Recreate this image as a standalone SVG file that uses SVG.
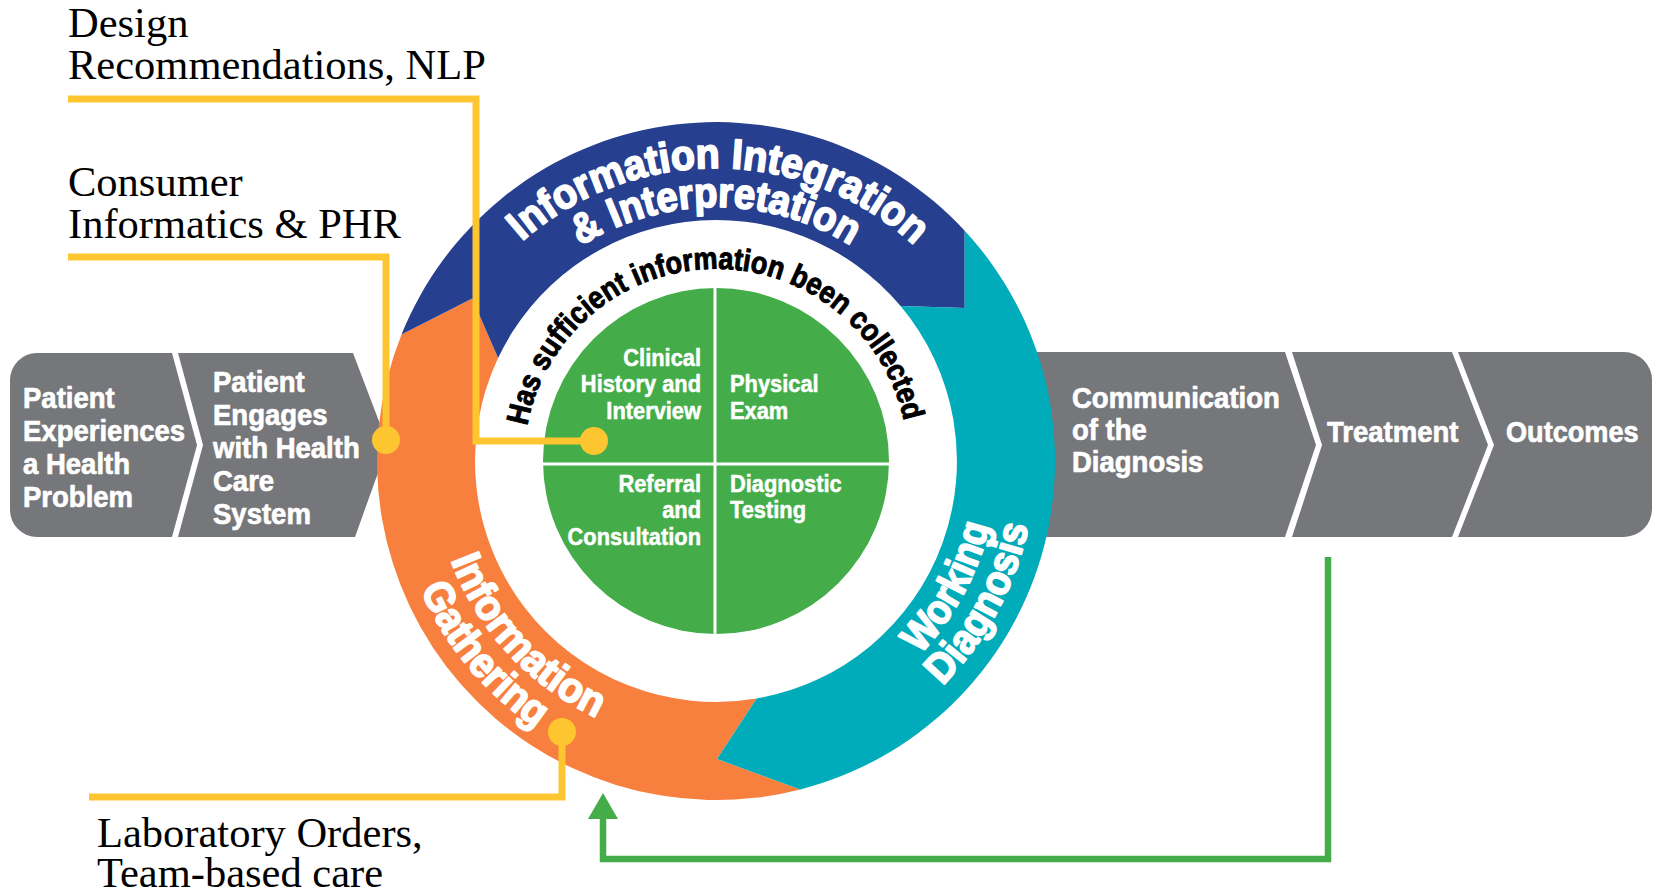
<svg xmlns="http://www.w3.org/2000/svg" width="1655" height="893" viewBox="0 0 1655 893">
<style>
.gray{fill:#76777b}
.gt{font-family:"Liberation Sans",Arial,sans-serif;font-weight:bold;font-size:29.5px;fill:#fff;stroke:#fff;stroke-width:0.7;stroke-linejoin:round}
.gtc{font-family:"Liberation Sans",Arial,sans-serif;font-weight:bold;font-size:28.6px;fill:#fff;stroke:#fff;stroke-width:0.7;stroke-linejoin:round}
.qt{font-family:"Liberation Sans",Arial,sans-serif;font-weight:bold;font-size:23px;fill:#fff;stroke:#fff;stroke-width:0.5;stroke-linejoin:round}
.rt{font-family:"Liberation Sans",Arial,sans-serif;font-weight:bold;font-size:42px;fill:#fff;stroke:#fff;stroke-width:1.8;stroke-linejoin:round}
.bt{font-family:"Liberation Sans",Arial,sans-serif;font-weight:bold;font-size:31px;fill:#000;stroke:#000;stroke-width:1;stroke-linejoin:round}
.lbl{font-family:"Liberation Serif","Times New Roman",serif;font-size:42.5px;fill:#000}
.yl{fill:none;stroke:#fdc52f;stroke-width:7}
.yd{fill:#fdc52f}
.gl{fill:none;stroke:#44ad4a;stroke-width:6.5}
.div{stroke:#fff;stroke-width:3}
</style>
<defs>
<path id="pTop1" d="M521.9,241.5 A293,293 0 0 1 940.4,272.7"/>
<path id="pTop2" d="M580.6,246.1 A254,254 0 0 1 879.3,266.4"/>
<path id="pBlack" d="M527.2,426 A192,192 0 0 1 907.3,444.3"/>
<path id="pGath1" d="M450.9,560.1 A283,283 0 0 0 642.8,734.4"/>
<path id="pGath2" d="M420.7,589.4 A322,322 0 0 0 579.9,752.8"/>
<path id="pWork1" d="M919.8,654.4 A281,281 0 0 0 995.9,485.5"/>
<path id="pWork2" d="M942.4,685.8 A319,319 0 0 0 1034.6,477.7"/>
</defs>
<rect width="1655" height="893" fill="#fff"/>

<g id="node-patient-experiences">
<path class="gray" d="M37,353 L172,353 L197,445 L172,537 L37,537 A27,27 0 0 1 10,510 L10,380 A27,27 0 0 1 37,353 Z"/>
<g transform="translate(23 0) scale(0.933 1)">
<text class="gt" x="0" y="408">Patient</text>
<text class="gt" x="0" y="441">Experiences</text>
<text class="gt" x="0" y="474">a Health</text>
<text class="gt" x="0" y="507">Problem</text>
</g>
</g>
<g id="node-patient-engages">
<path class="gray" d="M178,353 L353,353 L388,445 L355,537 L178,537 L203,445 Z"/>
<g transform="translate(213 0) scale(0.933 1)">
<text class="gt" x="0" y="392">Patient</text>
<text class="gt" x="0" y="425">Engages</text>
<text class="gt" x="0" y="458">with Health</text>
<text class="gt" x="0" y="491">Care</text>
<text class="gt" x="0" y="524">System</text>
</g>
</g>
<g id="node-communication">
<path class="gray" d="M1000,352 L1285,352 L1316,445 L1285,537 L1000,537 Z"/>
<g transform="translate(1072 0) scale(0.962 1)">
<text class="gtc" x="0" y="408">Communication</text>
<text class="gtc" x="0" y="440">of the</text>
<text class="gtc" x="0" y="472">Diagnosis</text>
</g>
</g>
<g id="node-treatment">
<path class="gray" d="M1292,352 L1452,352 L1488,445 L1452,537 L1292,537 L1322,445 Z"/>
<g transform="translate(1327 0) scale(0.933 1)">
<text class="gt" x="0" y="442">Treatment</text>
</g>
</g>
<g id="node-outcomes">
<path class="gray" d="M1458,352 L1624,352 A28,28 0 0 1 1652,380 L1652,509 A28,28 0 0 1 1624,537 L1458,537 L1494,445 Z"/>
<g transform="translate(1506 0) scale(0.92 1)">
<text class="gt" x="0" y="442">Outcomes</text>
</g>
</g>

<g id="node-information-gathering">
<path fill="#f8803f" d="M800.3,789.4 A339,339 0 0 1 401.5,334.6 L472.2,298.4 L498.1,358 A241,241 0 0 0 756.6,698.5 L717,759 Z"/>
<text class="rt"><textPath href="#pGath1" textLength="220" lengthAdjust="spacingAndGlyphs">Information</textPath></text>
<text class="rt"><textPath href="#pGath2" textLength="183" lengthAdjust="spacingAndGlyphs">Gathering</textPath></text>
</g>
<g id="node-information-integration">
<path fill="#263f8f" d="M401.5,334.6 A339,339 0 0 1 964.7,230.7 L964.7,308 L900.6,306.1 A241,241 0 0 0 498.1,358 L472.2,298.4 Z"/>
<text class="rt"><textPath href="#pTop1" textLength="430" lengthAdjust="spacingAndGlyphs">Information Integration</textPath></text>
<text class="rt"><textPath href="#pTop2" textLength="285" lengthAdjust="spacingAndGlyphs">&amp; Interpretation</textPath></text>
</g>
<g id="node-working-diagnosis">
<path fill="#00abba" d="M964.7,230.7 A339,339 0 0 1 800.3,789.4 L717,759 L756.6,698.5 A241,241 0 0 0 900.6,306.1 L964.7,308 Z"/>
<text class="rt"><textPath href="#pWork1" textLength="148" lengthAdjust="spacingAndGlyphs">Working</textPath></text>
<text class="rt"><textPath href="#pWork2" textLength="184" lengthAdjust="spacingAndGlyphs">Diagnosis</textPath></text>
</g>

<g id="node-question">
<text class="bt"><textPath href="#pBlack" startOffset="0" textLength="49.5" lengthAdjust="spacingAndGlyphs">Has</textPath></text>
<text class="bt"><textPath href="#pBlack" startOffset="57" textLength="120" lengthAdjust="spacingAndGlyphs">sufficient</textPath></text>
<text class="bt"><textPath href="#pBlack" startOffset="184.5" textLength="148.4" lengthAdjust="spacingAndGlyphs">information</textPath></text>
<text class="bt"><textPath href="#pBlack" startOffset="340.4" textLength="63" lengthAdjust="spacingAndGlyphs">been</textPath></text>
<text class="bt"><textPath href="#pBlack" startOffset="410.9" textLength="117" lengthAdjust="spacingAndGlyphs">collected</textPath></text>
</g>

<g id="node-center">
<circle cx="716" cy="461" r="173" fill="#44ad4a"/>
<line class="div" x1="715" y1="288" x2="715" y2="634"/>
<line class="div" x1="543" y1="464" x2="889" y2="464"/>
<g transform="translate(701 0) scale(0.95 1)" text-anchor="end">
<text class="qt" x="0" y="366">Clinical</text>
<text class="qt" x="0" y="392">History and</text>
<text class="qt" x="0" y="419">Interview</text>
<text class="qt" x="0" y="492">Referral</text>
<text class="qt" x="0" y="518">and</text>
<text class="qt" x="0" y="545">Consultation</text>
</g>
<g transform="translate(730 0) scale(0.95 1)">
<text class="qt" x="0" y="392">Physical</text>
<text class="qt" x="0" y="419">Exam</text>
<text class="qt" x="0" y="492">Diagnostic</text>
<text class="qt" x="0" y="518">Testing</text>
</g>
</g>

<g id="connectors">
<polyline class="yl" points="68,99 476,99 476,441 594,441"/>
<circle class="yd" cx="594" cy="441" r="14"/>
<polyline class="yl" points="68,257 386,257 386,440"/>
<circle class="yd" cx="386" cy="440" r="14"/>
<polyline class="yl" points="89,797 562,797 562,732"/>
<circle class="yd" cx="562" cy="732" r="14"/>
<polyline class="gl" points="1328,557 1328,859 603,859 603,814"/>
<polygon fill="#44ad4a" points="603,793 588,819 618,819"/>
</g>

<g id="labels">
<text class="lbl" x="68" y="37">Design</text>
<text class="lbl" x="68" y="79">Recommendations, NLP</text>
<text class="lbl" x="68" y="196">Consumer</text>
<text class="lbl" x="68" y="238">Informatics &amp; PHR</text>
<text class="lbl" x="97" y="847">Laboratory Orders,</text>
<text class="lbl" x="97" y="887">Team-based care</text>
</g>
</svg>
